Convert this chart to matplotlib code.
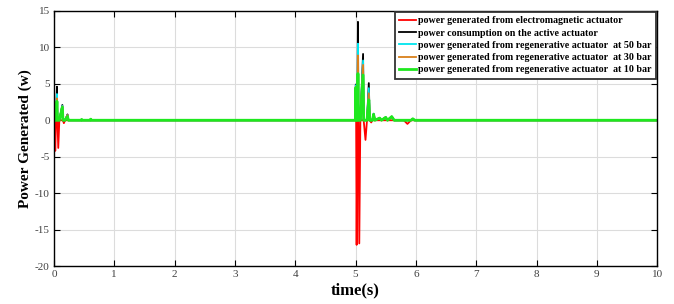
import matplotlib
matplotlib.use('Agg')
import matplotlib.pyplot as plt

plt.rcParams['font.family'] = ['Liberation Serif', 'DejaVu Serif']
plt.rcParams['axes.unicode_minus'] = False

# sample times (s)
t = [0.0, 0.005, 0.012, 0.022, 0.035, 0.05, 0.058, 0.072, 0.09, 0.14, 0.15, 0.165, 0.185,
     0.225, 0.24, 0.45, 0.46, 0.47, 0.6, 0.61, 0.62,
     5.0, 5.005, 5.01, 5.018, 5.03, 5.04, 5.048, 5.062, 5.08, 5.125, 5.135, 5.165, 5.19,
     5.22, 5.235, 5.26, 5.28, 5.30, 5.32, 5.40, 5.43, 5.50, 5.53, 5.60, 5.64,
     5.8, 5.86, 5.92, 5.95, 5.98, 10.0]

electromagnetic = [0, 0, 0, -4.2, 0, 0, 0, -3.8, 0, 0, 0, -0.4, 0,
                   0, 0, 0, 0, 0, 0, 0, 0,
                   0, 0, 0, -17.1, 0, 0, 0, -16.9, 0, 0, 0, -2.7, 0,
                   0, 0, -0.3, 0, 0, 0, 0, 0, 0, 0, 0, 0,
                   0, -0.5, 0, 0, 0, 0]
consumption = [0, 2.1, 0, 0, 0, 4.6, 0, 0, 0, 2.1, 0, 0, 0,
               0.8, 0, 0, 0.1, 0, 0, 0.15, 0,
               0, 4.9, 0, 0, 0, 13.5, 0, 0, 0, 9.1, 0, 0, 0,
               5.1, 0, 0, 0, 0.9, 0, 0.3, 0, 0.4, 0, 0.5, 0,
               0, 0, 0, 0.2, 0, 0]
regen_50 = [0, 2.1, 0, 0, 0, 3.6, 0, 0, 0, 2.0, 0, 0, 0,
            0.7, 0, 0, 0.1, 0, 0, 0.15, 0,
            0, 4.8, 0, 0, 0, 10.5, 0, 0, 0, 8.2, 0, 0, 0,
            4.4, 0, 0, 0, 0.9, 0, 0.3, 0, 0.4, 0, 0.5, 0,
            0, 0, 0, 0.2, 0, 0]
regen_30 = [0, 2.1, 0, 0, 0, 3.0, 0, 0, 0, 1.9, 0, 0, 0,
            0.7, 0, 0, 0.1, 0, 0, 0.15, 0,
            0, 4.6, 0, 0, 0, 8.9, 0, 0, 0, 7.6, 0, 0, 0,
            3.7, 0, 0, 0, 0.8, 0, 0.3, 0, 0.4, 0, 0.5, 0,
            0, 0, 0, 0.2, 0, 0]
regen_10 = [0, 2.1, 0, 0, 0, 2.6, 0, 0, 0, 1.8, 0, 0, 0,
            0.5, 0, 0, 0.1, 0, 0, 0.15, 0,
            0, 4.5, 0, 0, 0, 6.4, 0, 0, 0, 6.2, 0, 0, 0,
            2.8, 0, 0, 0, 0.8, 0, 0.3, 0, 0.4, 0, 0.5, 0,
            0, 0, 0, 0.2, 0, 0]

labels = ['power generated from electromagnetic actuator',
          'power consumption on the active actuator',
          'power generated from regenerative actuator  at 50 bar',
          'power generated from regenerative actuator  at 30 bar',
          'power generated from regenerative actuator  at 10 bar']

fig = plt.figure(figsize=(6.74, 3.04), dpi=100)
ax = fig.add_axes([0.080, 0.125, 0.895, 0.839])

ax.plot(t, electromagnetic, color='#ff0000', lw=1.3, label=labels[0])
ax.plot(t, consumption, color='#000000', lw=1.3, label=labels[1])
ax.plot(t, regen_50, color='#00e5ee', lw=1.3, label=labels[2])
ax.plot(t, regen_30, color='#d9801a', lw=1.3, label=labels[3])
ax.plot(t, regen_10, color='#1ee81e', lw=2.0, label=labels[4])

ax.set_xlim(0, 10)
ax.set_ylim(-20, 15)
ax.set_xticks(range(0, 11))
ax.set_yticks(range(-20, 16, 5))
ax.grid(True, color='#dcdcdc', lw=0.8)
ax.set_axisbelow(True)
ax.tick_params(direction='in', top=True, right=True, labelsize=8, colors='#404040',
               length=4, pad=3)
ax.tick_params(axis='both', which='both', color='black')
for s in ax.spines.values():
    s.set_linewidth(1.0)

ax.set_xlabel('time(s)', fontsize=12, fontweight='bold', labelpad=2)
ax.set_ylabel('Power Generated (w)', fontsize=11, fontweight='bold', labelpad=2)

leg = ax.legend(loc='upper right', prop={'weight': 'bold', 'size': 7.2},
                frameon=True, fancybox=False, edgecolor='#333333', framealpha=1,
                borderaxespad=0.1, handlelength=1.7, handletextpad=0.2,
                labelspacing=0.32, borderpad=0.45)
leg.get_frame().set_linewidth(1.3)

fig.savefig('out.png', dpi=100)
